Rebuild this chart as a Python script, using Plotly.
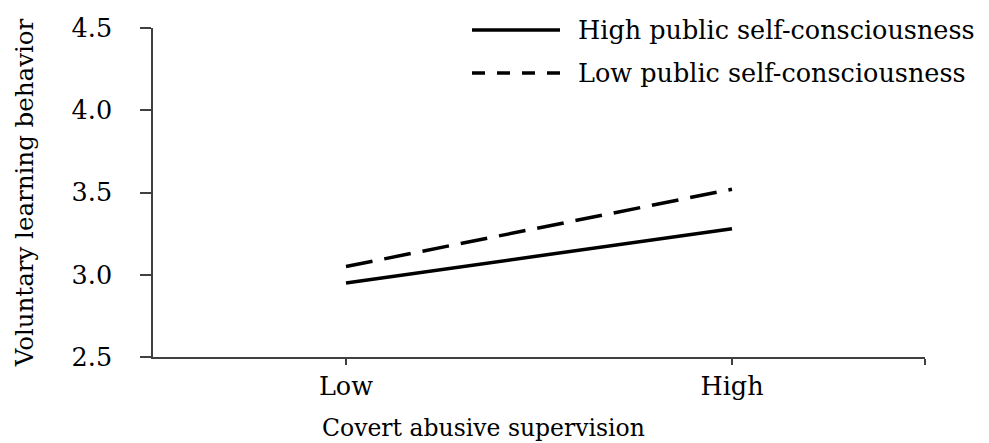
import plotly.graph_objects as go

categories = ["Low", "High"]
x_pos = [0, 1]
high_psc = [2.95, 3.28]
low_psc = [3.05, 3.52]
series_names = ["High public self-consciousness", "Low public self-consciousness"]
y_ticks = [2.5, 3.0, 3.5, 4.0, 4.5]

FONT = "DejaVu Serif"
FS = 25.5
AX = "#404040"

fig = go.Figure()
fig.add_trace(go.Scatter(x=x_pos, y=high_psc, mode="lines", name=series_names[0],
                         line=dict(color="black", width=3.5), showlegend=False))
fig.add_trace(go.Scatter(x=x_pos, y=low_psc, mode="lines", name=series_names[1],
                         line=dict(color="black", width=3.5, dash="27px,12px"), showlegend=False))

# manual legend (keys + text)
leg_y = [0.994, 0.863]
dashes = ["solid", "13px,12px"]
for i, name in enumerate(series_names):
    fig.add_shape(type="line", xref="paper", yref="paper",
                  x0=(472 - 153) / 772, x1=(560 - 153) / 772, y0=leg_y[i], y1=leg_y[i],
                  line=dict(color="black", width=3.5, dash=dashes[i]))
    fig.add_annotation(xref="paper", yref="paper", x=(576 - 153) / 772, y=leg_y[i],
                       text=name, showarrow=False, xanchor="left", yanchor="middle",
                       font=dict(family=FONT, size=FS, color="black"))

fig.add_annotation(xref="paper", yref="paper", x=(483 - 153) / 772, y=-0.216,
                   text="Covert abusive supervision", showarrow=False,
                   xanchor="center", yanchor="middle",
                   font=dict(family=FONT, size=23.5, color="black"))

fig.update_layout(
    width=989, height=443,
    margin=dict(l=153, r=64, t=28, b=86),
    paper_bgcolor="white", plot_bgcolor="white",
    font=dict(family=FONT, size=FS, color="black"),
    showlegend=False,
)
fig.update_xaxes(range=[-0.5, 1.5], tickmode="array", tickvals=[0, 1, 1.5],
                 ticktext=categories + [""], showgrid=False, zeroline=False,
                 showline=True, linecolor=AX, linewidth=1.5,
                 ticks="outside", ticklen=6, tickcolor=AX, tickwidth=1.5,
                 tickfont=dict(family=FONT, size=FS, color="black"))
fig.update_yaxes(range=[2.5, 4.5], tickmode="array", tickvals=y_ticks,
                 ticktext=[f"{v:.1f}" for v in y_ticks], showgrid=False, zeroline=False,
                 showline=True, linecolor=AX, linewidth=1.5,
                 ticks="outside", ticklen=11, tickcolor=AX, tickwidth=1.5,
                 tickfont=dict(family=FONT, size=FS, color="black"),
                 ticklabelposition="outside", ticklabelstandoff=23,
                 title=dict(text="Voluntary learning behavior", standoff=31,
                            font=dict(family=FONT, size=24.5, color="black")))

fig.write_html("out.html", config={"displayModeBar": False},
               post_script="document.body.style.margin='0';")
